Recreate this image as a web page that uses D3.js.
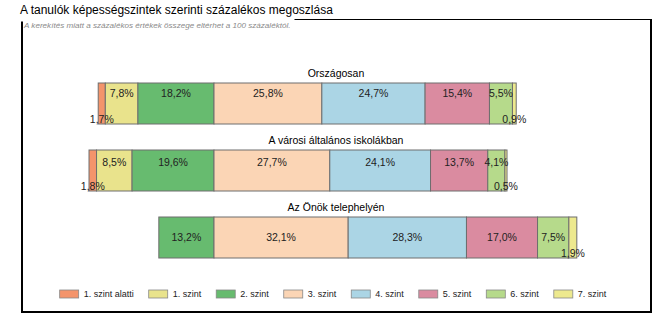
<!DOCTYPE html>
<html><head><meta charset="utf-8">
<script src="https://cdn.jsdelivr.net/npm/d3@7"></script>
<style>body{margin:0;background:#fff;font-family:Arial,"Liberation Sans",sans-serif}</style>
</head><body>
<svg id="c" width="669" height="328"></svg>
<script>
const title = "A tanulók képességszintek szerinti százalékos megoszlása";
const note = "A kerekítés miatt a százalékos értékek összege eltérhet a 100 százaléktól.";
const rows = ["Országosan", "A városi általános iskolákban", "Az Önök telephelyén"];
const levels = ["1. szint alatti", "1. szint", "2. szint", "3. szint", "4. szint", "5. szint", "6. szint", "7. szint"];
const colors = ["#F4946B", "#E9E38C", "#67BB6F", "#FBD5B5", "#ABD5E5", "#DA8BA0", "#B6DA8B", "#EDE98E"];
const valuesOrszagos = [1.7, 7.8, 18.2, 25.8, 24.7, 15.4, 5.5, 0.9];
const valuesVarosi = [1.8, 8.5, 19.6, 27.7, 24.1, 13.7, 4.1, 0.5];
const valuesTelephely = [0, 0, 13.2, 32.1, 28.3, 17.0, 7.5, 1.9];
const series = [valuesOrszagos, valuesVarosi, valuesTelephely];
const pivot = 3; // levels before index 3 are stacked to the left of zero

const svg = d3.select("#c");
const x = d3.scaleLinear().domain([-30, 90]).range([88.6, 590.2]);
const y = d3.scalePoint().domain(rows).range([103.5, 237.5]);
const barH = 41;
const labelShift = [-10, -8, 0];
const fmt = v => d3.format(".1f")(v).replace(".", ",") + "%";

// title
svg.append("text").attr("x", 20).attr("y", 14).attr("font-size", 12).attr("fill", "#000").text(title);

// frame
const noteT = svg.append("text").attr("x", 24).attr("y", 27.5).attr("font-size", 8.1)
  .attr("font-style", "italic").attr("fill", "#8a8a8a").text(note);
const noteEnd = 24 + noteT.node().getComputedTextLength() + 4;
svg.append("line").attr("x1", noteEnd).attr("x2", 652).attr("y1", 19.5).attr("y2", 19.5).attr("stroke", "#000").attr("stroke-width", 1);
svg.append("line").attr("x1", 22).attr("x2", 22).attr("y1", 21.5).attr("y2", 313).attr("stroke", "#000").attr("stroke-width", 2);
svg.append("line").attr("x1", 651).attr("x2", 651).attr("y1", 19).attr("y2", 313).attr("stroke", "#000").attr("stroke-width", 2);
svg.append("line").attr("x1", 21).attr("x2", 652).attr("y1", 312).attr("y2", 312).attr("stroke", "#000").attr("stroke-width", 2);

rows.forEach((r, ri) => {
  const vals = series[ri];
  const g = svg.append("g");
  const cy = y(r);
  const segs = [];
  let acc = 0;
  for (let i = pivot - 1; i >= 0; i--) { segs[i] = {i, v: vals[i], x0: acc - vals[i], x1: acc}; acc -= vals[i]; }
  acc = 0;
  for (let i = pivot; i < vals.length; i++) { segs[i] = {i, v: vals[i], x0: acc, x1: acc + vals[i]}; acc += vals[i]; }
  const drawn = segs.filter(s => s.v > 0);
  g.selectAll("rect").data(drawn).join("rect")
    .attr("x", s => x(s.x0)).attr("width", s => x(s.x1) - x(s.x0))
    .attr("y", cy - barH / 2).attr("height", barH)
    .attr("fill", s => colors[s.i]).attr("stroke", "#6e6e6e").attr("stroke-width", 1);
  g.selectAll("text.lab").data(drawn).join("text").attr("class", "lab")
    .attr("x", s => (x(s.x0) + x(s.x1)) / 2)
    .attr("y", s => s.v < 3 ? cy + barH / 2 - 5 : cy + labelShift[ri])
    .attr("dy", "0.35em").attr("text-anchor", "middle").attr("font-size", 10.5).attr("fill", "#222")
    .text(s => fmt(s.v));
  svg.append("text").attr("x", 336).attr("y", cy - barH / 2 - 10).attr("dy", "0.35em")
    .attr("text-anchor", "middle").attr("font-size", 10.5).attr("fill", "#000").text(r);
});

// legend
const lg = svg.append("g");
const items = lg.selectAll("g").data(levels).join("g");
items.append("rect").attr("width", 19).attr("height", 8).attr("y", 290)
  .attr("fill", (d, i) => colors[i]).attr("stroke", "#888").attr("stroke-width", 0.8);
items.append("text").attr("x", 24).attr("y", 294).attr("dy", "0.35em").attr("font-size", 9).attr("fill", "#222").text(d => d);
let pos = 0; const xs = [];
items.each(function () { xs.push(pos); pos += 24 + d3.select(this).select("text").node().getComputedTextLength() + 15; });
const total = pos - 15;
const start = 333 - total / 2;
items.attr("transform", (d, i) => `translate(${start + xs[i]},0)`);
</script>
</body></html>
